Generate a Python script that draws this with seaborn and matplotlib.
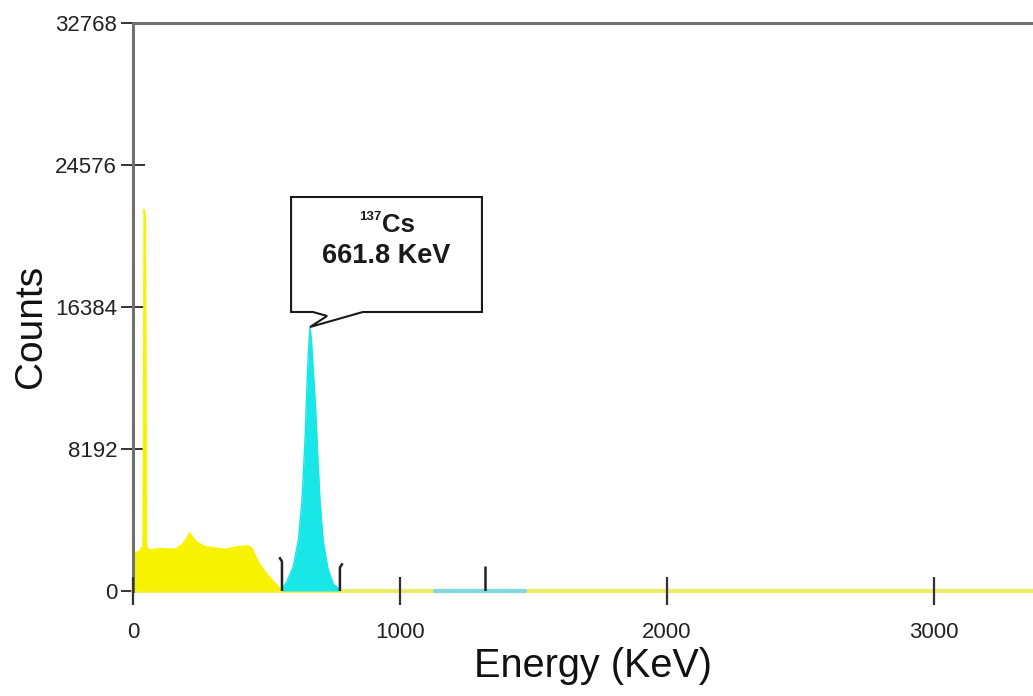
import matplotlib
matplotlib.use("Agg")
import matplotlib.pyplot as plt
import seaborn as sns
import pandas as pd
from matplotlib.patches import Polygon

# ---- data ----
compton_energy = [0, 10, 25, 38, 42, 46, 50, 54, 64, 100, 157, 187, 200, 213, 225,
                  240, 270, 345, 393, 431, 446, 468, 494, 520, 543, 558]
compton_counts = [2000, 2200, 2300, 2600, 22000, 21500, 2700, 2450, 2350, 2450, 2400,
                  2700, 3000, 3350, 3050, 2800, 2550, 2400, 2550, 2600, 2450, 1700,
                  1100, 650, 250, 0]

cs_energy = [558, 575, 600, 620, 633, 645, 652, 658, 663, 668, 675, 684, 692, 700, 712,
             730, 750, 775]
cs_counts = [150, 500, 1400, 3000, 5250, 9000, 12000, 14200, 15200, 14500, 12800,
             10500, 7800, 5300, 2900, 1300, 400, 100]

roi2_energy = [1131, 1468]          # second (cyan) region on the baseline
baseline_energy = [0, 3371]

marker_energy = [558, 775, 1317]     # ROI markers
marker_height = [1950, 1600, 1450]
marker_hook = [-10, 10, 0]

y_ticks = [0, 8192, 16384, 24576, 32768]
x_ticks = [0, 1000, 2000, 3000]

callout_box = [592, 1307, 16096, 22730]              # x0, x1, y0, y1
callout_tail = [(861, 16096), (663, 15230), (727, 15865), (674, 16096)]
peak_label = "661.8 KeV"
isotope = "Cs"
mass_number = "137"

# ---- style ----
sns.set_style("white")
plt.rcParams["font.family"] = ["Liberation Sans", "DejaVu Sans"]

fig = plt.figure(figsize=(10.33, 6.96), dpi=100)
ax = fig.add_axes([133 / 1033, 105 / 696, 900 / 1033, 568 / 696])

yellow = "#F7F300"
cyan = "#19E6E6"
spine_grey = "#707070"
tick_grey = "#333333"

df_c = pd.DataFrame({"Energy": compton_energy, "Counts": compton_counts})
df_cs = pd.DataFrame({"Energy": cs_energy, "Counts": cs_counts})

# baseline
sns.lineplot(x=baseline_energy, y=[0, 0], color="#EDEB6A", lw=3, ax=ax, zorder=2,
             clip_on=False)
sns.lineplot(x=roi2_energy, y=[0, 0], color="#7FD8E0", lw=3, ax=ax, zorder=3,
             clip_on=False)

ax.fill_between(df_c["Energy"], 0, df_c["Counts"], color=yellow, lw=0, zorder=3)
sns.lineplot(data=df_c, x="Energy", y="Counts", color=yellow, lw=1.2, ax=ax, zorder=3)
ax.fill_between(df_cs["Energy"], 0, df_cs["Counts"], color=cyan, lw=0, zorder=3)
sns.lineplot(data=df_cs, x="Energy", y="Counts", color=cyan, lw=1.0, ax=ax, zorder=3)

for e, h, hk in zip(marker_energy, marker_height, marker_hook):
    ax.plot([e + hk, e, e], [h, h - 250 if hk else h, 0], color="#222222", lw=1.8,
            zorder=4, solid_capstyle="butt")

# callout
x0, x1, y0, y1 = callout_box
verts = [(x0, y1), (x1, y1), (x1, y0)] + callout_tail + [(x0, y0)]
ax.add_patch(Polygon(verts, closed=True, facecolor="white", edgecolor="#1a1a1a",
                     lw=1.5, zorder=5))
xc = (x0 + x1) / 2
ax.text(xc - 16, 21100, isotope, ha="left", va="center", fontsize=18.5,
        fontweight="bold", color="#1a1a1a", zorder=6)
ax.text(xc - 20, 21600, mass_number, ha="right", va="center", fontsize=9.5,
        fontweight="bold", color="#1a1a1a", zorder=6)
ax.text(xc, 19350, peak_label, ha="center", va="center", fontsize=19.5,
        fontweight="bold", color="#1a1a1a", zorder=6)

# axes
ax.set_xlim(0, 3371)
ax.set_ylim(0, 32768)
ax.set_xticks(x_ticks)
ax.set_yticks(y_ticks)
ax.set_xticklabels([str(v) for v in x_ticks])
ax.set_yticklabels([str(v) for v in y_ticks])

for s in ["bottom", "right"]:
    ax.spines[s].set_visible(False)
for s in ["left", "top"]:
    ax.spines[s].set_color(spine_grey)
    ax.spines[s].set_linewidth(2.2)
ax.spines["left"].set_zorder(6)

# x tick marks crossing the baseline (drawn at the tick positions)
ax.vlines(x_ticks, -0.025, 0.025, transform=ax.get_xaxis_transform(),
          colors=tick_grey, lw=1.6, clip_on=False, zorder=7)

narrow = ["Liberation Sans Narrow", "Liberation Sans", "DejaVu Sans"]
ax.tick_params(axis="x", bottom=False, pad=19, labelsize=16, labelcolor="#222222")
ax.tick_params(axis="y", left=True, direction="inout", length=17, width=1.4,
               color=tick_grey, pad=3, labelsize=16, labelcolor="#222222")
for lab in ax.get_xticklabels() + ax.get_yticklabels():
    lab.set_family(narrow)

ax.set_xlabel("Energy (KeV)", fontsize=28.5, color="#111111")
ax.set_ylabel("Counts", fontsize=28, color="#111111")
ax.xaxis.set_label_coords(0.511, -0.099)
ax.yaxis.set_label_coords(-0.093, 0.465)
ax.grid(False)

fig.savefig("out.png", dpi=100)
